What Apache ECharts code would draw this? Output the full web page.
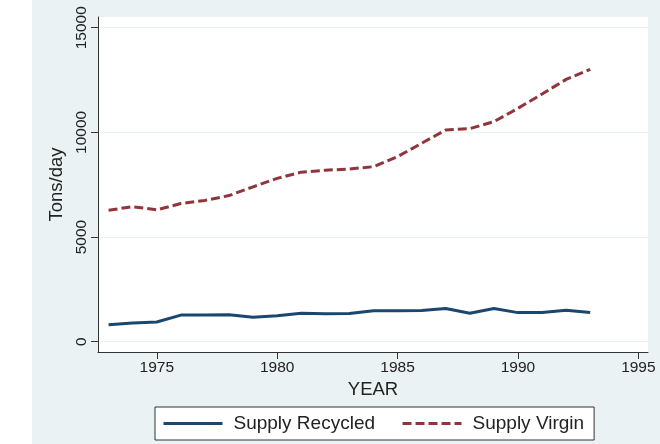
<!DOCTYPE html>
<html><head><meta charset="utf-8">
<script src="https://cdn.jsdelivr.net/npm/echarts@6/dist/echarts.min.js"></script>
<style>
html,body{margin:0;padding:0;background:#fff;}
#bg{position:absolute;left:32px;top:0;width:628px;height:444px;background:#EAF2F3;}
#c{position:absolute;left:0;top:0;width:660px;height:444px;}
</style>
</head><body><div id="bg"></div><div id="c"></div>
<script>
const years = [1973,1974,1975,1976,1977,1978,1979,1980,1981,1982,1983,1984,1985,1986,1987,1988,1989,1990,1991,1992,1993];
const supplyRecycled = [810,890,940,1270,1280,1290,1170,1240,1360,1340,1350,1480,1480,1490,1590,1360,1590,1390,1390,1500,1390];
const supplyVirgin = [6280,6450,6300,6600,6750,6980,7400,7800,8100,8190,8250,8360,8840,9480,10110,10180,10510,11150,11830,12530,13010];
const yTicks = [0,5000,10000,15000];
const xTicks = [1975,1980,1985,1990,1995];
const seriesNames = ['Supply Recycled','Supply Virgin'];

const FONT = '"Liberation Sans", Arial, sans-serif';
const TXT = '#222';
const AX = '#333';

const chart = echarts.init(document.getElementById('c'), null, {renderer:'canvas'});
chart.setOption({
  backgroundColor: 'transparent',
  animation: false,
  textStyle: {fontFamily: FONT},
  grid: {left:98, right:12, top:17, bottom:92, show:true, backgroundColor:'#fff', borderWidth:0, containLabel:false, outerBoundsMode:'none'},
  xAxis: {
    type:'value', min:1972.56, max:1995.4,
    name:'YEAR', nameLocation:'middle', nameGap:22,
    nameTextStyle:{fontSize:18.5, color:TXT, fontFamily:FONT},
    axisLine:{show:true, onZero:false, lineStyle:{color:AX, width:1}},
    axisTick:{show:true, length:7, customValues:xTicks, lineStyle:{color:AX, width:1}},
    axisLabel:{show:true, margin:8, customValues:xTicks, fontSize:15.5, color:TXT, fontFamily:FONT,
               formatter: v => String(v)},
    splitLine:{show:false}
  },
  yAxis: {
    type:'value', min:-492, max:15511,
    name:'Tons/day', nameLocation:'middle', nameGap:27, nameRotate:90,
    nameTextStyle:{fontSize:18.5, color:TXT, fontFamily:FONT},
    axisLine:{show:true, onZero:false, lineStyle:{color:AX, width:1}},
    axisTick:{show:true, length:7, customValues:yTicks, lineStyle:{color:AX, width:1}},
    axisLabel:{show:true, rotate:90, margin:8, customValues:yTicks, fontSize:15.5, color:TXT, fontFamily:FONT,
               formatter: v => String(v)},
    splitLine:{show:true, lineStyle:{color:'#EAF2F3', width:1}}
  },
  legend: {
    left:155, top:407, orient:'horizontal',
    padding:[7,10,7,7], itemGap:26, itemWidth:59, itemHeight:14,
    backgroundColor:'#fff', borderColor:AX, borderWidth:1, borderRadius:0,
    itemStyle:{opacity:0, borderWidth:0},
    lineStyle:{width:3},
    textStyle:{fontSize:19, color:TXT, fontFamily:FONT, padding:[0,0,0,6]},
    data: seriesNames
  },
  series: [
    {name:seriesNames[0], type:'line', symbol:'none', showSymbol:false,
     data: years.map((y,i)=>[y, supplyRecycled[i]]),
     color:'#1A476F', lineStyle:{color:'#1A476F', width:3, type:'solid'}},
    {name:seriesNames[1], type:'line', symbol:'none', showSymbol:false,
     data: years.map((y,i)=>[y, supplyVirgin[i]]),
     color:'#90353B', lineStyle:{color:'#90353B', width:3, type:[9,4]}}
  ]
});
</script>
</body></html>
